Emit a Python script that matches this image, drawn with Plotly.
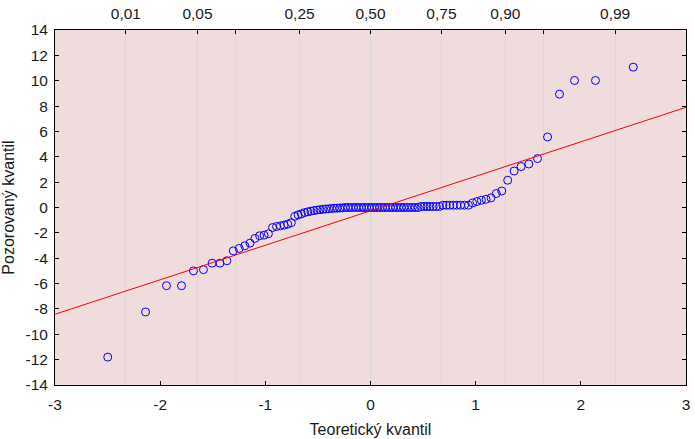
from statistics import NormalDist
import plotly.graph_objects as go

observed = [
    -11.8, -8.24, -6.17, -6.17, -5.0, -4.9, -4.39, -4.39, -4.2, -3.42,
    -3.23, -3.02, -2.81, -2.44, -2.23, -2.18, -2.07, -1.58, -1.50, -1.45,
    -1.39, -1.31, -1.2, -0.70, -0.58, -0.50, -0.40, -0.34, -0.29, -0.24,
    -0.20, -0.17, -0.14, -0.12, -0.10, -0.08, -0.06, -0.05, -0.04, -0.03,
    0.0, 0.0, 0.0, 0.0, 0.0, 0.0, 0.0, 0.0, 0.0, 0.0,
    0.0, 0.0, 0.0, 0.0, 0.0, 0.0, 0.0, 0.0, 0.0, 0.0,
    0.0, 0.0, 0.0, 0.0, 0.0, 0.0, 0.0, 0.0, 0.08, 0.08,
    0.08, 0.08, 0.08, 0.08, 0.08, 0.18, 0.18, 0.18, 0.18, 0.18,
    0.18, 0.18, 0.18, 0.36, 0.47, 0.57, 0.65, 0.76, 1.10, 1.30,
    2.15, 2.88, 3.23, 3.43, 3.86, 5.56, 8.94, 10.02, 10.02, 11.07,
]

# Reference line
fit_intercept = -0.26
fit_slope = 2.72
line_x = [-3, 3]

# Axis ticks
x_ticks = [-3, -2, -1, 0, 1, 2, 3]
y_ticks = list(range(-14, 15, 2))
prob_ticks = [0.01, 0.05, 0.10, 0.25, 0.50, 0.75, 0.90, 0.95, 0.99]
prob_labels = ["0,01", "0,05", "", "0,25", "0,50", "0,75", "0,90", "", "0,99"]

nd = NormalDist()
n = len(observed)
theoretical = [nd.inv_cdf((i - 0.375) / (n + 0.25)) for i in range(1, n + 1)]
prob_pos = [nd.inv_cdf(p) for p in prob_ticks]
line_y = [fit_intercept + fit_slope * v for v in line_x]

FONT = "Liberation Sans, Arial, sans-serif"
TXT = "#1a1a1a"

fig = go.Figure()
fig.add_trace(go.Scatter(
    x=line_x, y=line_y, mode="lines", xaxis="x2", yaxis="y",
    line=dict(color="#ff0000", width=1), hoverinfo="skip", showlegend=False,
))
fig.add_trace(go.Scatter(
    x=theoretical, y=observed, mode="markers",
    marker=dict(symbol="circle-open", size=8, color="#0000ff", line=dict(width=1, color="#0000ff")),
    showlegend=False,
))

fig.update_layout(
    width=695, height=439,
    margin=dict(l=55, r=9, t=30, b=54),
    paper_bgcolor="white",
    plot_bgcolor="#F0DCDC",
    font=dict(family=FONT, size=15.5, color=TXT),
    xaxis=dict(
        range=[-3, 3], tickvals=x_ticks, ticktext=[str(v) for v in x_ticks],
        ticks="inside", ticklen=4, tickcolor="black", ticklabelstandoff=5,
        showline=True, linecolor="black", linewidth=1, mirror=True,
        showgrid=False, zeroline=False, automargin=False,
        title=dict(text="Teoretický kvantil", font=dict(size=16, color=TXT), standoff=12),
    ),
    xaxis2=dict(
        overlaying="x", side="top", range=[-3, 3],
        tickvals=prob_pos, ticktext=prob_labels,
        ticks="inside", ticklen=4, tickcolor="black", ticklabelstandoff=7,
        showline=False, showgrid=True, gridcolor="#d2dadf", gridwidth=1,
        zeroline=False, automargin=False,
    ),
    yaxis=dict(
        range=[-14, 14], tickvals=y_ticks, ticktext=[str(v) for v in y_ticks],
        ticks="inside", ticklen=4, tickcolor="black", ticklabelstandoff=3,
        showline=True, linecolor="black", linewidth=1, mirror="ticks",
        showgrid=False, zeroline=False, automargin=False,
        title=dict(text="Pozorovaný kvantil", font=dict(size=16, color=TXT), standoff=10),
    ),
)

fig.write_html("out.html")
